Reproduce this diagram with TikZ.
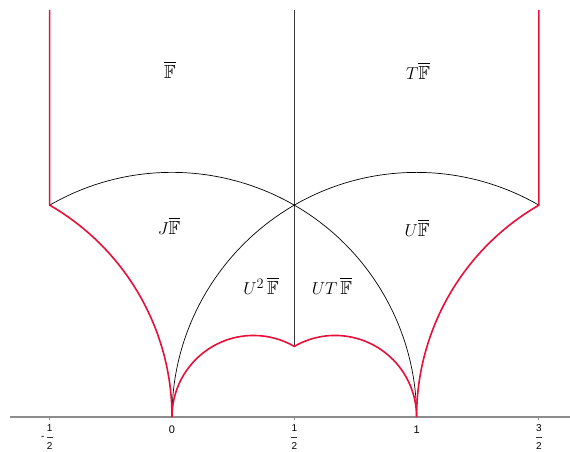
\documentclass[tikz,border=0pt]{standalone}
\usepackage{amssymb}
\usepackage{fontspec}
\newfontfamily\axisfont{Liberation Sans}
\definecolor{bred}{RGB}{232,16,58}
\definecolor{axgray}{RGB}{140,140,140}
\definecolor{vgray}{RGB}{60,60,60}
\begin{document}
\begin{tikzpicture}[x=244.6pt,y=244.6pt,
  redline/.style={bred,line width=1.6pt,line join=round},
  thinarc/.style={black,line width=0.7pt},
  midline/.style={vgray,line width=1.1pt},
  axisline/.style={axgray,line width=1.6pt},
  tickmark/.style={axgray,line width=1pt},
  region/.style={inner sep=0pt,font=\fontsize{19}{21}\selectfont},
  axnum/.style={inner sep=0pt,font=\axisfont\fontsize{11}{12}\selectfont},
  axfr/.style={inner sep=0pt,font=\axisfont\fontsize{10}{11}\selectfont},
  fbar/.style={black!80,line width=0.6pt}]
\useasboundingbox (-0.70319,-0.14309) rectangle (1.62715,1.70482);
\fill[white] (-0.70319,-0.14309) rectangle (1.62715,1.70482);
% axis
\draw[axisline] (-0.6623,0) -- (1.62715,0);
\foreach \t in {-0.5,0.5,1.5} \draw[tickmark] (\t,0) -- (\t,-3pt);
% black geodesics
\draw[midline] (0.5,1.664) -- (0.5,0.288675);
\draw[thinarc] (-0.5,0.866025) arc[start angle=120,end angle=0,radius=1];
\draw[thinarc] (0,0) arc[start angle=180,end angle=60,radius=1];
% red boundary
\draw[redline] (-0.5,1.664) -- (-0.5,0.866025) arc[start angle=60,end angle=0,radius=1];
\draw[redline] (0,0) arc[start angle=180,end angle=60,radius=1/3]
  arc[start angle=120,end angle=0,radius=1/3];
\draw[redline] (1,0) arc[start angle=180,end angle=120,radius=1] -- (1.5,1.664);
% region labels
\node[region] (F) at (-0.008,1.4187) {$\overline{\mathbb{F}}$};
\node[region] (TF) at (1.006,1.4146) {$T\overline{\mathbb{F}}$};
\node[region] (JF) at (-0.012,0.781) {$J\overline{\mathbb{F}}$};
\node[region] (UF) at (1.0016,0.7727) {$U\overline{\mathbb{F}}$};
\node[region] (UUF) at (0.3639,0.5356) {$U^{2}\,\overline{\mathbb{F}}$};
\node[region] (UTF) at (0.654,0.5356) {$UT\,\overline{\mathbb{F}}$};
% axis labels
\node[axnum] (l0) at (0,-13pt) {0};
\node[axnum] (l1) at (1,-13pt) {1};
\foreach \x/\n/\nm in {-0.5/1/a,0.5/1/b,1.5/3/c}{
  \node[axfr] (n\nm) at (\x,-11.5pt) {\n};
  \node[axfr] (d\nm) at (\x,-29pt) {2};
  \draw[fbar] ([xshift=-3pt,yshift=-8.5pt]n\nm.center) -- ([xshift=3pt,yshift=-8.5pt]n\nm.center);
}
\node[axfr] (minus) at (-0.5,-21pt) [xshift=-7pt] {-};
\end{tikzpicture}
\end{document}
